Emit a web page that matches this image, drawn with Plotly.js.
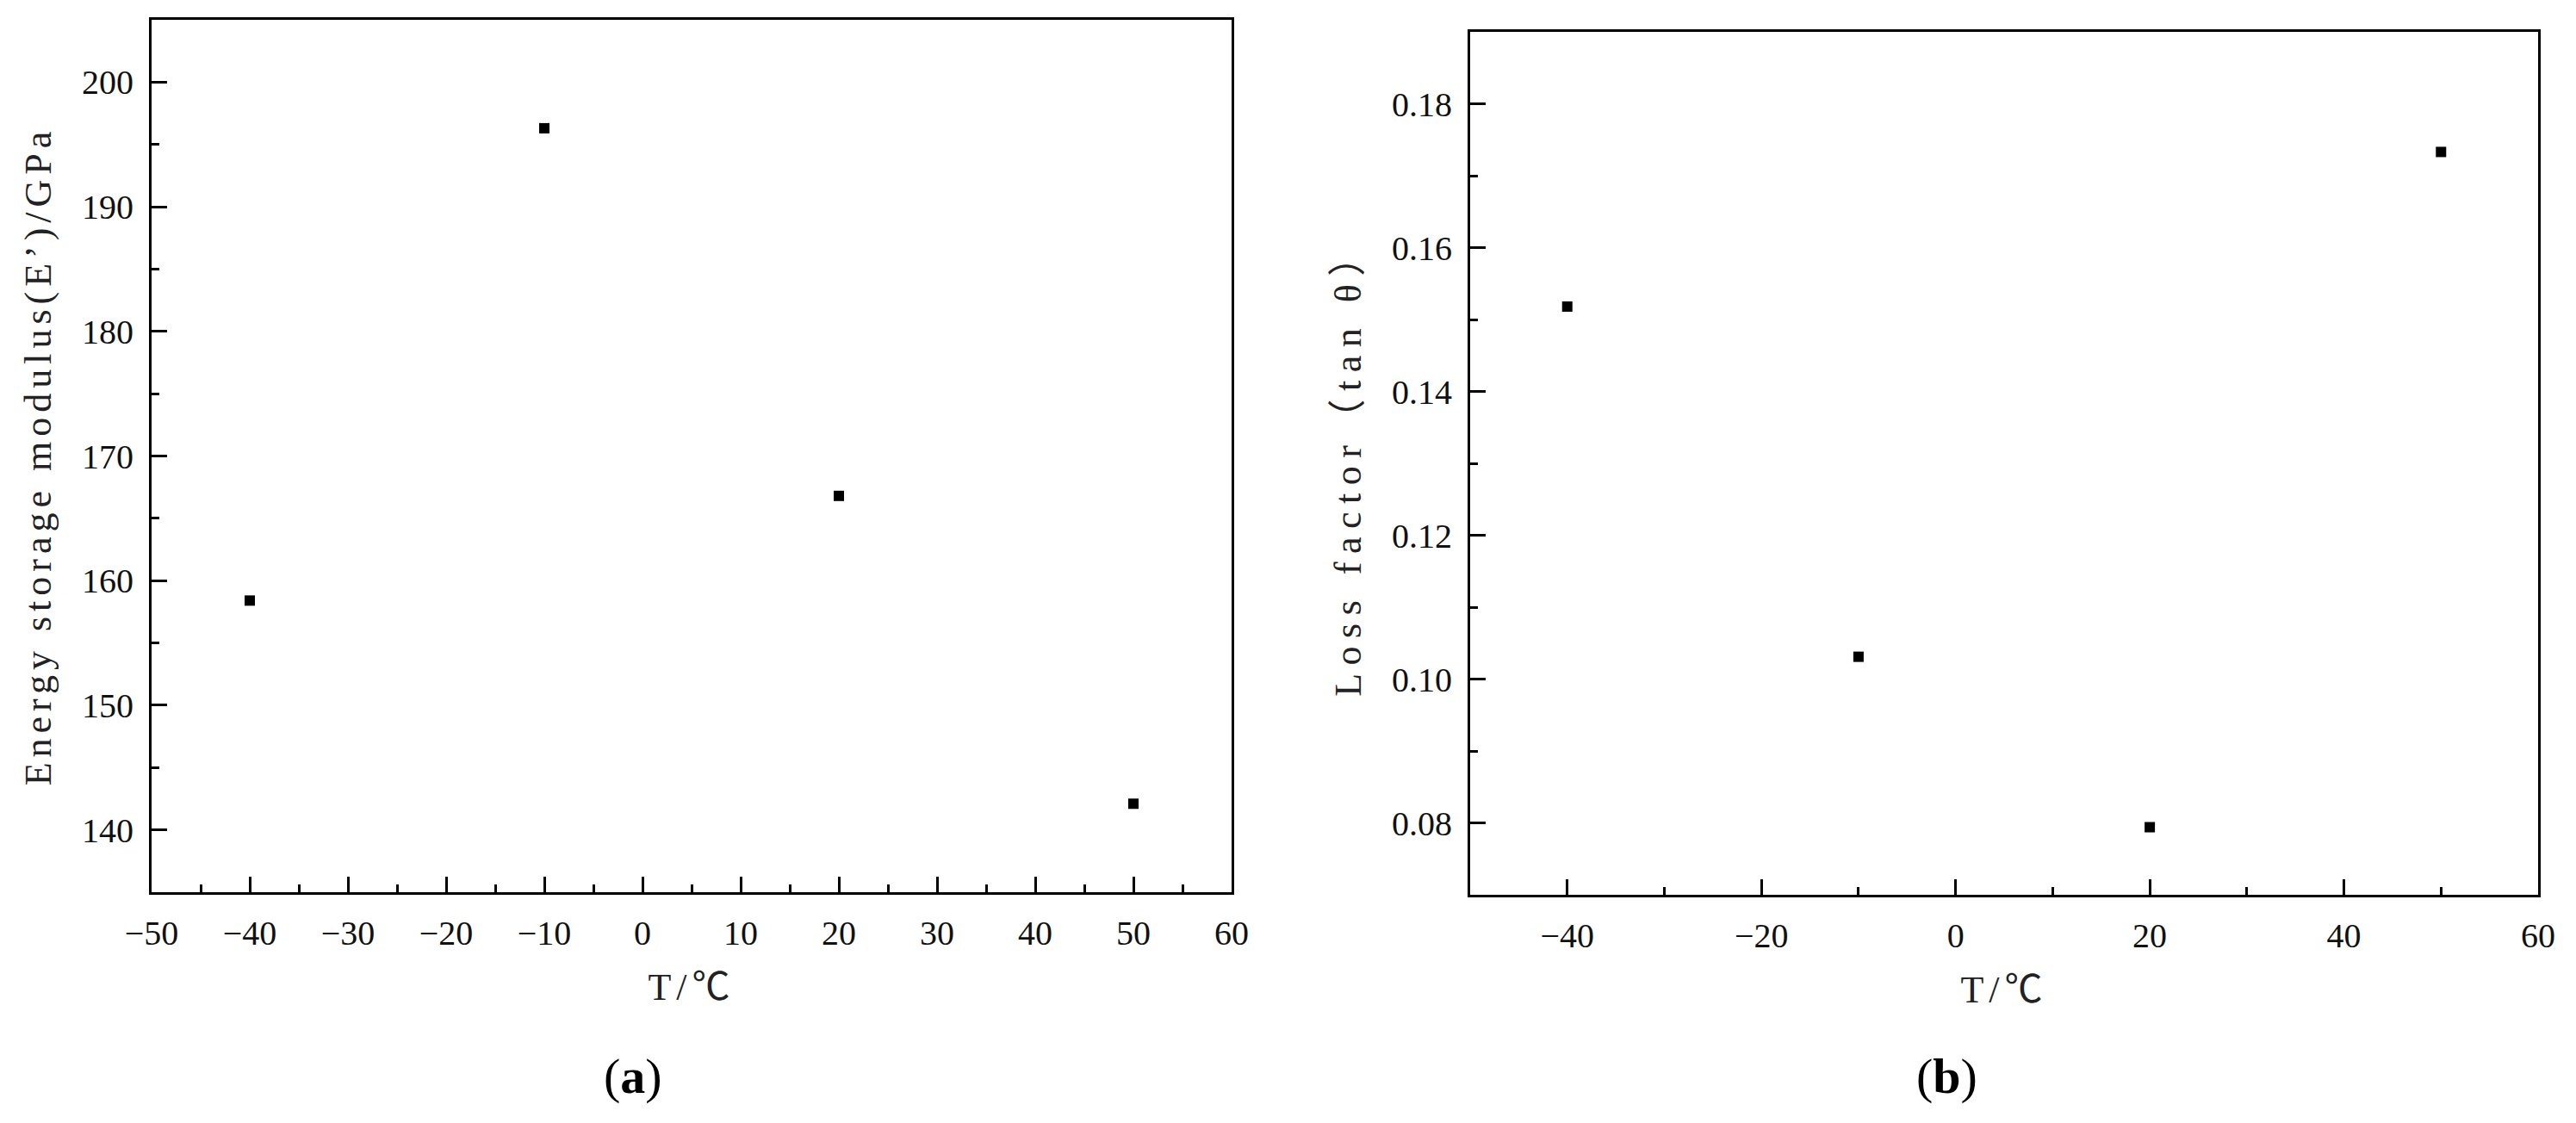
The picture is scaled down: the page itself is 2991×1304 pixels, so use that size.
<!DOCTYPE html>
<html>
<head>
<meta charset="utf-8">
<script src="https://cdn.plot.ly/plotly-3.0.1.min.js"></script>
<style>
html,body{margin:0;padding:0;background:#fff;}
#chart{width:2991px;height:1304px;}
#chart .ytitle, #chart .xtitle, #chart .x2title { letter-spacing: 6px; }
#chart .y2title { letter-spacing: 9.5px; }
</style>
</head>
<body>
<div id="chart"></div>
<script>
// Data
const temperature = [-40, -10, 20, 50];
const storageModulus = [158.4, 196.3, 166.8, 142.1];
const lossFactor = [0.1518, 0.1031, 0.0794, 0.1733];

const xTitle = 'T/℃';
const yTitleA = 'Energy storage modulus(E’)/GPa';
const yTitleB = 'Loss factor（tan θ）';
const panelLabels = ['(<b>a</b>)', '(<b>b</b>)'];

const tickFont = {family: 'Liberation Serif, serif', size: 40, color: '#111'};
const titleFont = {family: 'Liberation Serif, Noto Sans CJK SC, serif', size: 44, color: '#222'};

function axisBase(extra) {
  return Object.assign({
    showline: true, linecolor: 'black', linewidth: 3, mirror: true,
    ticks: 'inside', ticklen: 18, tickwidth: 3, tickcolor: 'black',
    showgrid: false, zeroline: false,
    tickfont: tickFont,
  }, extra);
}

const traces = [
  {x: temperature, y: storageModulus, xaxis: 'x', yaxis: 'y', type: 'scatter', mode: 'markers',
   marker: {symbol: 'square', size: 12, color: 'black'}, showlegend: false},
  {x: temperature, y: lossFactor, xaxis: 'x2', yaxis: 'y2', type: 'scatter', mode: 'markers',
   marker: {symbol: 'square', size: 12, color: 'black'}, showlegend: false}
];

const layout = {
  width: 2991, height: 1304,
  margin: {l: 176, r: 44, t: 23, b: 265},
  paper_bgcolor: 'white', plot_bgcolor: 'white',
  xaxis: axisBase({domain: [0, 0.45255], range: [-50, 60], dtick: 10, tick0: 0,
    minor: {dtick: 5, ticks: 'inside', ticklen: 9, tickwidth: 3, tickcolor: 'black'},
    ticklabelstandoff: 10,
    title: {text: xTitle, font: titleFont, standoff: 26}, anchor: 'y'}),
  yaxis: axisBase({domain: [0.00295, 1], range: [135, 205], dtick: 10, tick0: 0,
    minor: {dtick: 5, ticks: 'inside', ticklen: 9, tickwidth: 3, tickcolor: 'black'},
    ticklabelstandoff: 10,
    title: {text: yTitleA, font: titleFont, standoff: 22}, anchor: 'x'}),
  xaxis2: axisBase({domain: [0.55251, 1], range: [-50, 60], dtick: 20, tick0: 0,
    minor: {dtick: 10, ticks: 'inside', ticklen: 9, tickwidth: 3, tickcolor: 'black'},
    ticklabelstandoff: 10,
    title: {text: xTitle, font: titleFont, standoff: 26}, anchor: 'y2'}),
  yaxis2: axisBase({domain: [0, 0.98622], range: [0.07, 0.19], dtick: 0.02, tick0: 0, tickformat: '.2f',
    minor: {dtick: 0.01, ticks: 'inside', ticklen: 9, tickwidth: 3, tickcolor: 'black'},
    ticklabelstandoff: 10,
    title: {text: yTitleB, font: titleFont, standoff: 22}, anchor: 'x2'}),
  annotations: [
    {text: panelLabels[0], xref: 'paper', yref: 'paper', x: 0.2017, y: -0.2067,
     xanchor: 'center', yanchor: 'middle', showarrow: false,
     font: {family: 'Liberation Serif, serif', size: 58, color: 'black'}},
    {text: panelLabels[1], xref: 'paper', yref: 'paper', x: 0.7524, y: -0.2067,
     xanchor: 'center', yanchor: 'middle', showarrow: false,
     font: {family: 'Liberation Serif, serif', size: 58, color: 'black'}}
  ]
};

Plotly.newPlot('chart', traces, layout, {staticPlot: true, displayModeBar: false});
</script>
</body>
</html>
